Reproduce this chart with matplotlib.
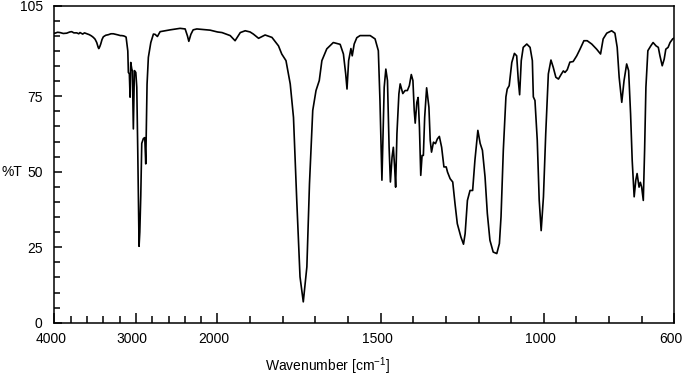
import numpy as np
import matplotlib
matplotlib.use('Agg')
import matplotlib.pyplot as plt
from matplotlib.ticker import FixedLocator, NullFormatter
from matplotlib.transforms import ScaledTranslation

plt.rcParams['font.family'] = ['Liberation Sans', 'DejaVu Sans']
plt.rcParams['mathtext.default'] = 'regular'

# IR spectrum (wavenumber in cm-1, %T)
wavenumber = [
    4000, 3991, 3960, 3930, 3890, 3848, 3810, 3787, 3760, 3725, 3700, 3685, 3652, 3630, 3611, 3590,
    3571, 3545, 3521, 3500, 3480, 3462, 3455, 3443, 3431, 3415, 3399, 3370, 3337, 3305, 3276, 3245,
    3215, 3190, 3173, 3150, 3132, 3120, 3099, 3092, 3080, 3071, 3063, 3050, 3043, 3031, 3018, 3001,
    2989, 2977, 2961, 2952, 2940, 2928, 2908, 2891, 2879, 2863, 2847, 2817, 2785, 2764, 2736, 2703,
    2580, 2458, 2396, 2368, 2351, 2326, 2298, 2253, 2090, 2000,
    1986, 1961, 1946, 1930, 1915, 1900, 1890, 1874, 1854, 1833, 1813, 1803, 1790, 1777, 1767, 1757,
    1747, 1737, 1726, 1718, 1708, 1698, 1688, 1680, 1665, 1645, 1624, 1614, 1607, 1603, 1598, 1591,
    1587, 1581, 1573, 1563, 1532, 1517, 1507, 1502, 1496, 1489, 1484, 1479, 1474, 1470, 1465, 1461,
    1457, 1454, 1450, 1444, 1440, 1432, 1425, 1418, 1412, 1406, 1401, 1397, 1394, 1389, 1385, 1381,
    1377, 1373, 1369, 1365, 1359, 1352, 1348, 1344, 1338, 1332, 1326, 1320, 1313, 1306, 1299, 1295,
    1287, 1279, 1272, 1265, 1254, 1246, 1241, 1234, 1226, 1218, 1211, 1202, 1195, 1188, 1180, 1173,
    1165, 1155, 1144, 1136, 1131, 1124, 1116, 1112, 1106, 1098, 1090, 1083, 1078, 1074, 1069, 1063,
    1052, 1042, 1035, 1032, 1027, 1020, 1014, 1008, 1001, 994, 986, 978, 971, 963, 955, 947,
    940, 935, 928, 922, 920, 910, 899, 889, 877, 867, 853, 838, 826, 818, 807, 792,
    782, 775, 769, 761, 754, 746, 740, 734, 729, 723, 718, 714, 708, 704, 700, 695,
    691, 687, 681, 672, 665, 656, 649, 644, 637, 631, 626, 619, 613, 605, 600,
]
transmittance = [
    95.9, 95.9, 96.2, 96.1, 95.8, 95.9, 96.3, 96.4, 96.0, 96.0, 95.7, 96.1, 95.6, 96.0, 95.8, 95.6,
    95.4, 95.0, 94.5, 93.9, 92.8, 91.2, 90.8, 91.4, 92.3, 93.8, 94.7, 95.2, 95.4, 95.7, 95.7, 95.5,
    95.3, 95.1, 95.1, 95.0, 94.8, 94.6, 90.0, 82.9, 82.4, 74.7, 86.2, 84.0, 83.5, 64.2, 83.5, 82.9,
    78.0, 57.0, 25.3, 30.0, 42.0, 59.4, 61.0, 61.3, 52.6, 79.0, 87.9, 92.8, 95.6, 95.5, 94.8, 96.4,
    97.0, 97.5, 97.3, 95.0, 93.2, 95.5, 97.0, 97.3, 96.9, 96.3,
    96.1, 95.1, 93.4, 96.1, 96.7, 96.3, 95.6, 94.2, 95.3, 94.5, 91.7, 89.0, 86.8, 79.1, 68.0, 40.5,
    15.2, 6.9, 18.5, 46.0, 70.3, 76.9, 80.2, 86.8, 90.7, 92.8, 92.2, 89.0, 82.4, 77.4, 86.8, 90.8,
    88.4, 92.3, 94.4, 95.1, 95.1, 94.0, 90.1, 73.6, 47.2, 78.0, 84.0, 80.2, 58.1, 46.6, 54.8, 58.1,
    51.5, 44.9, 62.6, 75.8, 79.1, 75.9, 76.9, 76.9, 78.5, 82.2, 80.2, 70.3, 66.1, 73.0, 74.6, 64.7,
    48.8, 55.4, 55.4, 68.0, 77.8, 71.4, 60.4, 56.5, 59.8, 59.3, 60.9, 61.7, 58.1, 51.6, 51.6, 49.9,
    47.7, 46.6, 39.4, 32.8, 28.4, 26.0, 29.5, 40.5, 43.8, 43.8, 53.8, 63.7, 59.4, 57.1, 48.3, 36.2,
    27.3, 23.4, 22.9, 26.2, 35.1, 57.1, 74.8, 77.4, 78.5, 86.2, 89.2, 88.4, 80.2, 75.5, 86.8, 91.2,
    92.3, 91.2, 86.8, 74.8, 73.6, 60.5, 40.6, 30.5, 41.7, 62.6, 82.4, 87.0, 84.6, 81.3, 80.7, 82.2,
    83.4, 82.9, 83.8, 85.7, 86.3, 86.5, 88.4, 90.6, 93.4, 93.4, 92.3, 90.6, 89.0, 94.0, 95.9, 96.7,
    95.9, 91.2, 81.3, 73.0, 80.2, 85.7, 83.5, 69.2, 53.7, 41.7, 47.2, 49.4, 44.9, 46.5, 44.9, 40.5,
    57.1, 78.0, 90.1, 91.7, 92.8, 91.7, 91.2, 88.4, 85.1, 87.3, 90.6, 91.2, 92.8, 94.0, 94.3,
]

x_major = [4000, 3000, 2000, 1500, 1000, 600]
x_minor = [3800, 3600, 3400, 3200, 2800, 2600, 2400, 2200,
           1900, 1800, 1700, 1600, 1400, 1300, 1200, 1100, 900, 800, 700]
y_major = [0, 25, 50, 75, 105]
y_minor = [5, 10, 15, 20, 30, 35, 40, 45, 55, 60, 65, 70, 80, 85, 90, 95, 100]


def fwd(w):
    w = np.asarray(w, dtype=float)
    return np.where(w >= 2000, w, 2000 - (2000 - w) * 4)


def inv(t):
    t = np.asarray(t, dtype=float)
    return np.where(t >= 2000, t, 2000 - (2000 - t) / 4)


W, H = 683, 376
fig = plt.figure(figsize=(W / 100, H / 100), dpi=100)
ax = fig.add_axes([54.3 / W, 1 - 322.7 / H, 620 / W, 317 / H])
ax.set_xscale('function', functions=(fwd, inv))
ax.plot(wavenumber, transmittance, color='black', lw=1.2)
ax.set_xlim(4000, 600)
ax.set_ylim(0, 105)

ax.xaxis.set_major_locator(FixedLocator(x_major))
ax.xaxis.set_minor_locator(FixedLocator(x_minor))
ax.xaxis.set_minor_formatter(NullFormatter())
ax.set_xticklabels([str(v) for v in x_major])
ax.yaxis.set_major_locator(FixedLocator(y_major))
ax.yaxis.set_minor_locator(FixedLocator(y_minor))
ax.yaxis.set_minor_formatter(NullFormatter())
ax.set_yticklabels([str(v) for v in y_major])

for s in ax.spines.values():
    s.set_linewidth(1.1)

ax.tick_params(axis='both', which='both', direction='in', width=1.1,
               colors='black', labelsize=10, top=False, right=False)
ax.tick_params(axis='x', which='major', length=7.4, pad=7)
ax.tick_params(axis='x', which='minor', length=5)
ax.tick_params(axis='y', which='major', length=5.8, pad=8.4)
ax.tick_params(axis='y', which='minor', length=4.3)

shift = ScaledTranslation(-3.5 / 100, 0, fig.dpi_scale_trans)
for lab in ax.get_xticklabels():
    lab.set_transform(lab.get_transform() + shift)

fig.text(2 / W, 1 - 171.7 / H, '%T', ha='left', va='center', fontsize=10)
fig.text(328 / W, 1 - 366 / H, 'Wavenumber [cm$^{-1}$]', ha='center', va='center', fontsize=10)

fig.savefig('out.png', dpi=100)
